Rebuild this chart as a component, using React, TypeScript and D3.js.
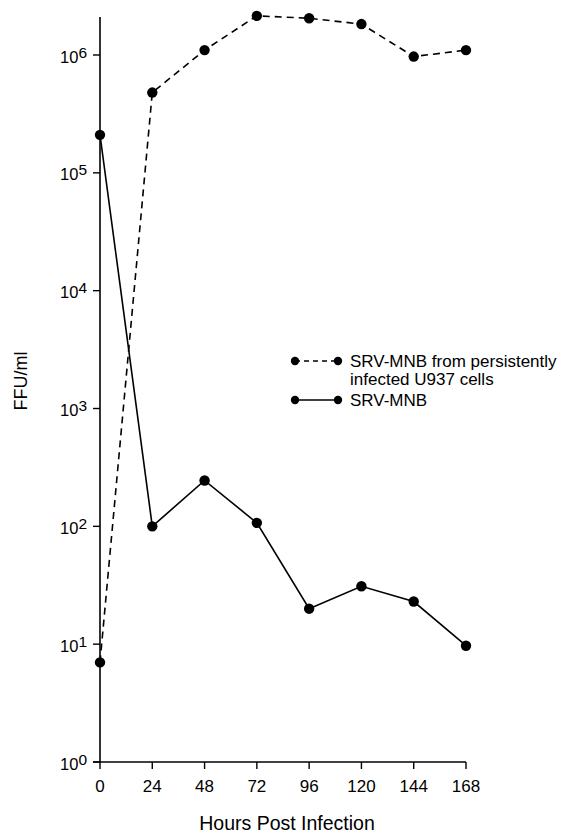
import React from "react";
import * as d3 from "d3";

const hours = [0, 24, 48, 72, 96, 120, 144, 168];
const persistentSeries = [7, 4.8e5, 1.1e6, 2.15e6, 2.05e6, 1.83e6, 0.97e6, 1.1e6];
const srvSeries = [2.1e5, 100, 245, 107, 20, 31, 23, 9.7];
const yTickExponents = [0, 1, 2, 3, 4, 5, 6];
const xTickLabels = [0, 24, 48, 72, 96, 120, 144, 168];
const legendLabels = [
  ["SRV-MNB from persistently", "infected U937 cells"],
  ["SRV-MNB"],
];

const W = 578;
const H = 833;
const FONT = "'Liberation Sans', Arial, Helvetica, sans-serif";

export default function App() {
  const x = d3.scaleLinear().domain([0, 168]).range([100, 466]);
  const y = d3.scaleLog().domain([1, 1e6]).range([762, 55]);
  const axisTop = 17;

  const line = d3
    .line<number>()
    .x((_, i) => x(hours[i]))
    .y((d) => y(d));

  const series = [
    { values: persistentSeries, dash: "7,5" },
    { values: srvSeries, dash: null as string | null },
  ];

  return (
    <svg
      width={W}
      height={H}
      style={{ position: "absolute", left: 0, top: 0, background: "#fff" }}
      fontFamily={FONT}
    >
      <rect width={W} height={H} fill="#fff" />
      {/* axes */}
      <line x1={x(0)} x2={x(0)} y1={axisTop} y2={y(1)} stroke="#000" strokeWidth={1.6} />
      <line x1={x(0) - 7} x2={x(168)} y1={y(1)} y2={y(1)} stroke="#000" strokeWidth={1.6} />
      {yTickExponents.map((e) => (
        <g key={e}>
          <line x1={x(0) - 7} x2={x(0)} y1={y(10 ** e)} y2={y(10 ** e)} stroke="#000" strokeWidth={1.4} />
          <text x={87} y={y(10 ** e) + 7.5} textAnchor="end" fontSize={16.5} fill="#000">
            10
            <tspan dy={-5} fontSize={15.5}>{e}</tspan>
          </text>
        </g>
      ))}
      {xTickLabels.map((t) => (
        <g key={t}>
          <line x1={x(t)} x2={x(t)} y1={y(1)} y2={y(1) + 7} stroke="#000" strokeWidth={1.4} />
          <text x={x(t)} y={792} textAnchor="middle" fontSize={17} fill="#000">
            {t}
          </text>
        </g>
      ))}
      <text x={287} y={830} textAnchor="middle" fontSize={19.5} fill="#000">
        Hours Post Infection
      </text>
      <text
        transform={`translate(27,381) rotate(-90)`}
        textAnchor="middle"
        fontSize={18}
        fill="#000"
      >
        FFU/ml
      </text>

      {/* series */}
      {series.map((s, k) => (
        <g key={k}>
          <path
            d={line(s.values) || ""}
            fill="none"
            stroke="#000"
            strokeWidth={1.6}
            strokeDasharray={s.dash || undefined}
          />
          {s.values.map((v, i) => (
            <circle key={i} cx={x(hours[i])} cy={y(v)} r={5.2} fill="#000" />
          ))}
        </g>
      ))}

      {/* legend */}
      <g>
        <line x1={295} x2={338} y1={361} y2={361} stroke="#000" strokeWidth={1.5} strokeDasharray="5,4" />
        <circle cx={295} cy={361} r={4.2} fill="#000" />
        <circle cx={338} cy={361} r={4.2} fill="#000" />
        <text x={350} y={367} fontSize={17} fill="#000">{legendLabels[0][0]}</text>
        <text x={350} y={385} fontSize={17} fill="#000">{legendLabels[0][1]}</text>
        <line x1={295} x2={338} y1={400} y2={400} stroke="#000" strokeWidth={1.6} />
        <circle cx={295} cy={400} r={4.2} fill="#000" />
        <circle cx={338} cy={400} r={4.2} fill="#000" />
        <text x={350} y={406} fontSize={17} fill="#000">{legendLabels[1][0]}</text>
      </g>
    </svg>
  );
}
